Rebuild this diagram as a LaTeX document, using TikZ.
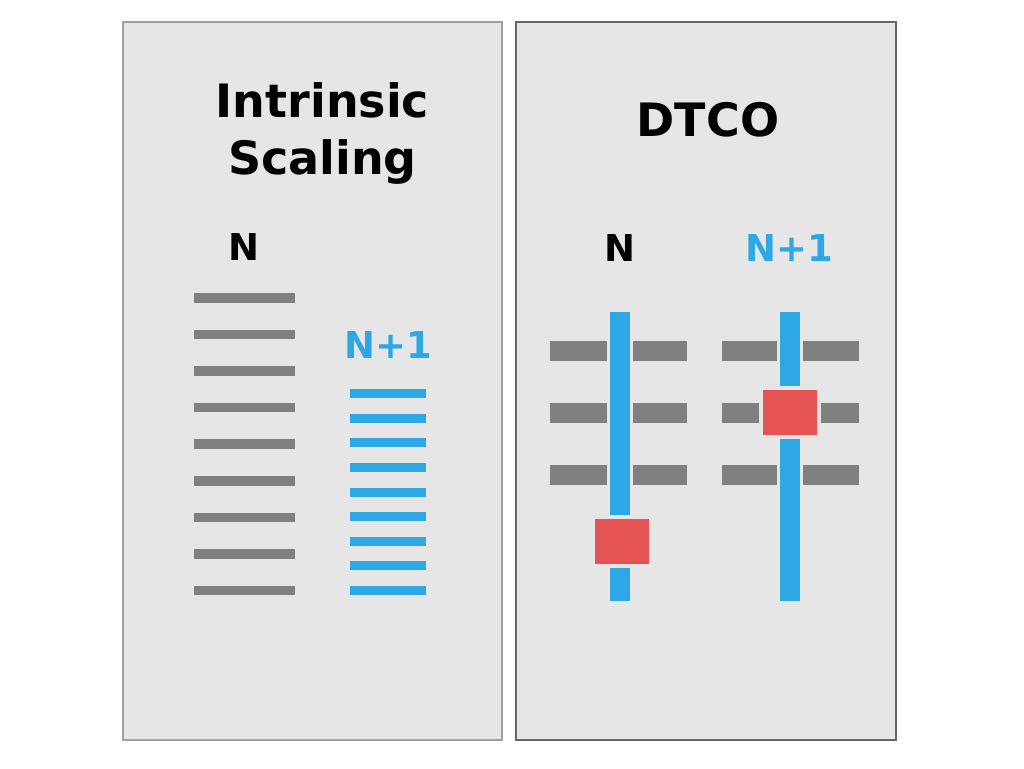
\documentclass[tikz,border=0pt]{standalone}
\usepackage{fontspec}
\setmainfont{DejaVu Sans}
\definecolor{panelbg}{HTML}{E6E6E6}
\definecolor{leftborder}{HTML}{A0A0A0}
\definecolor{rightborder}{HTML}{666666}
\definecolor{metalgray}{HTML}{808080}
\definecolor{viablue}{HTML}{2EA8E5}
\definecolor{cutred}{HTML}{E55353}
\tikzset{
  panel/.style={fill=panelbg, line width=1.2pt},
  title/.style={font=\fontsize{46}{50}\selectfont\bfseries, anchor=base, inner sep=0pt, align=center},
  lbl/.style={font=\fontsize{37}{40}\selectfont\bfseries, anchor=base, inner sep=0pt},
  graybar/.style={fill=metalgray, draw=none},
  bluebar/.style={fill=viablue, draw=none},
  redbox/.style={fill=cutred, draw=none}
}
\begin{document}
\begin{tikzpicture}[x=1pt,y=-1pt]
\useasboundingbox (0,0) rectangle (1024,768);
\fill[white] (0,0) rectangle (1024,768);
% panels
\draw[panel, draw=leftborder] (123,22) rectangle (502,740);
\draw[panel, draw=rightborder] (516,22) rectangle (896,740);
% titles
\node[title] (t1) at (322.5,117) {Intrinsic};
\node[title] (t2) at (322.5,174) {Scaling};
\node[title] (t3) at (708,136) {DTCO};
% left panel labels
\node[lbl] (ln) at (244,260.5) {N};
\node[lbl, text=viablue] (ln1) at (388,358) {N+1};
% left gray lines
\foreach \i in {0,...,8}{
  \fill[graybar] (194,{297.8+36.6*\i-4.8}) rectangle (295,{297.8+36.6*\i+4.8});
}
% left blue lines
\foreach \i in {0,...,8}{
  \fill[bluebar] (350,{393.7+24.6*\i-4.5}) rectangle (426,{393.7+24.6*\i+4.5});
}
% right panel labels
\node[lbl] (rn) at (620,261) {N};
\node[lbl, text=viablue] (rn1) at (789.5,261) {N+1};
% right panel: N column
\foreach \y in {351,413,474.7}{
  \fill[graybar] (550,\y-10) rectangle (607.3,\y+10);
  \fill[graybar] (633.3,\y-10) rectangle (687,\y+10);
}
\fill[bluebar] (610,312) rectangle (630.3,515);
\fill[bluebar] (610,568) rectangle (630.3,601);
\fill[redbox] (595,519) rectangle (649,564);
% right panel: N+1 column
\foreach \y in {351,474.7}{
  \fill[graybar] (721.7,\y-10) rectangle (777.3,\y+10);
  \fill[graybar] (803,\y-10) rectangle (859,\y+10);
}
\fill[graybar] (721.7,403) rectangle (759,423);
\fill[graybar] (821,403) rectangle (859,423);
\fill[bluebar] (780,312) rectangle (800.3,385.7);
\fill[bluebar] (780,439) rectangle (800.3,601);
\fill[redbox] (763,389.7) rectangle (817,435);
\end{tikzpicture}
\end{document}
